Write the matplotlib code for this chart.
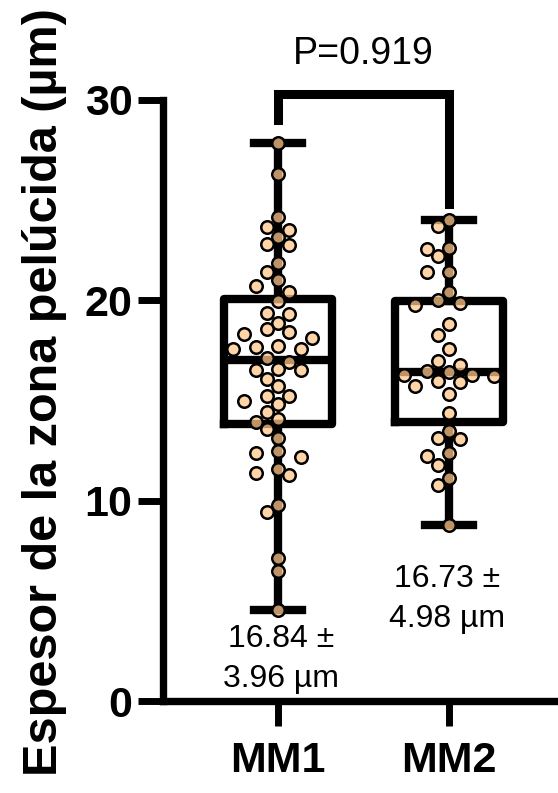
import matplotlib
matplotlib.use("Agg")
import matplotlib.pyplot as plt
import numpy as np

plt.rcParams["font.family"] = ["Liberation Sans", "DejaVu Sans"]

GROUPS = ["MM1", "MM2"]
MM1 = [27.85, 26.3, 24.14, 23.53, 23.67, 23.17, 22.74, 22.82, 21.88, 21.41,
       21.0, 20.71, 20.41, 19.97, 19.39, 19.3, 18.89, 18.31, 18.42, 18.14,
       18.56, 17.65, 17.56, 17.56, 17.7, 17.1, 16.9, 16.57, 16.53, 16.53,
       16.07, 15.74, 15.24, 15.21, 14.99, 14.83, 14.41, 14.08, 13.92, 13.58,
       13.12, 12.37, 12.47, 12.17, 11.59, 11.26, 11.39, 9.77, 9.44, 7.16,
       6.48, 4.54]
MM2 = [24.03, 23.7, 22.59, 22.54, 22.2, 21.43, 21.41, 20.43, 19.75, 20.0,
       19.89, 18.84, 18.27, 17.56, 16.95, 16.78, 16.40, 16.28, 16.28, 15.99,
       15.74, 15.94, 16.24, 16.49, 15.32, 14.38, 13.47, 13.12, 13.08, 12.25,
       12.39, 11.79, 11.13, 10.76, 8.81]
MEAN_TXT = ["16.84 ±\n3.96 µm", "16.73 ±\n4.98 µm"]
P_TXT = "P=0.919"


def swarm(vals, step, xpx, ypx, dmin):
    vals = np.asarray(vals)
    offs = np.zeros(len(vals))
    placed = []
    cands = [0] + [s * j for j in range(1, 12) for s in (-1, 1)]
    for i in np.argsort(vals)[::-1]:
        y = vals[i] * ypx
        for c in cands:
            x = c * step * xpx
            if all((x - px) ** 2 + (y - py) ** 2 >= dmin ** 2 for px, py in placed):
                break
        placed.append((x, y))
        offs[i] = c * step
    return offs


def box_stats(vals, label):
    q1, med, q3 = np.percentile(vals, [25, 50, 75])
    return dict(label=label, med=med, q1=q1, q3=q3,
                whislo=min(vals), whishi=max(vals), fliers=[])


fig = plt.figure(figsize=(5.58, 7.93), dpi=100)
ax = fig.add_axes([0.2921, 0.116, 0.7079, 0.7579])
ax.set_xlim(-0.673, 1.637)
ax.set_ylim(0, 30)

data = [MM1, MM2]
lw = 6
ax.bxp([box_stats(v, g) for v, g in zip(data, GROUPS)], positions=[0, 1],
       widths=0.63, capwidths=0.28, showfliers=False,
       boxprops=dict(color="black", linewidth=lw),
       whiskerprops=dict(color="black", linewidth=lw),
       capprops=dict(color="black", linewidth=lw),
       medianprops=dict(color="black", linewidth=lw),
       zorder=2)

for i, vals in enumerate(data):
    offs = swarm(vals, 0.066, 171, 20.03, 13)
    ax.scatter(i + offs, vals, s=9 ** 2, facecolor=(1.0, 0.78, 0.54, 0.75),
               edgecolor="black", linewidth=1.8, zorder=3, clip_on=False)

# bracket and p value
ax.plot([0, 0, 1, 1], [29.0, 30.3, 30.3, 24.8], color="black", linewidth=6.5,
        solid_joinstyle="miter", clip_on=False, zorder=2)
ax.text(0.5, 32.3, P_TXT, ha="center", va="center", fontsize=27)

# mean +- sd
ax.text(0.02, 2.1, MEAN_TXT[0], ha="center", va="center", fontsize=23, linespacing=1.45)
ax.text(0.99, 5.1, MEAN_TXT[1], ha="center", va="center", fontsize=23, linespacing=1.45)

for s in ["top", "right"]:
    ax.spines[s].set_visible(False)
for s in ["left", "bottom"]:
    ax.spines[s].set_linewidth(5.3)
ax.set_yticks([0, 10, 20, 30])
ax.set_xticks([0, 1])
ax.set_xticklabels(GROUPS)
ax.tick_params(length=18, width=5, labelsize=31, pad=4)
ax.tick_params(axis="x", pad=11)
for t in ax.get_xticklabels() + ax.get_yticklabels():
    t.set_fontweight("bold")

fig.text(0.08, 0.506, "Espesor de la zona pelúcida (µm)", rotation=90,
         ha="center", va="center", fontsize=35, fontweight="bold")

fig.savefig("out.png", dpi=100)
